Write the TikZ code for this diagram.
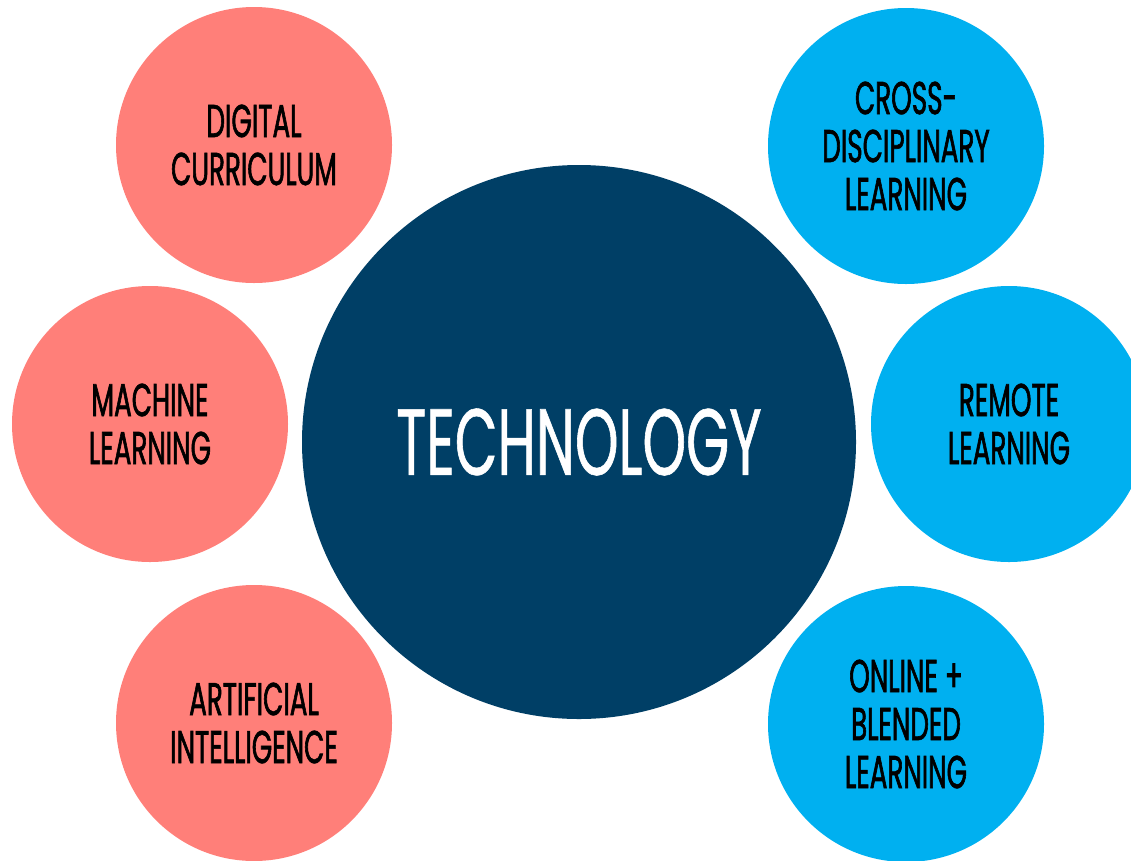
\documentclass[tikz,border=0pt]{standalone}
\usepackage{fontspec}
\setmainfont{Poppins}[FakeStretch=0.58]
\newfontfamily\labelfont{Poppins}[FakeStretch=0.57,FakeBold=1.3]
\newfontfamily\hubfont{Poppins}[FakeStretch=0.59,FakeBold=0.6]
\definecolor{pinkc}{RGB}{255,127,121}
\definecolor{bluec}{RGB}{0,176,240}
\definecolor{navyc}{RGB}{0,63,102}
\tikzset{
  bubble/.style={circle, minimum size=276pt, inner sep=0pt, align=center,
    font=\labelfont\fontsize{46}{48}\selectfont, text=black},
  pinkbubble/.style={bubble, fill=pinkc},
  bluebubble/.style={bubble, fill=bluec},
  hub/.style={circle, minimum size=554pt, inner sep=0pt, fill=navyc, text=white,
    font=\hubfont\fontsize{94}{96}\selectfont}
}
\begin{document}
\begin{tikzpicture}[x=1pt,y=-1pt]
\useasboundingbox (0,0) rectangle (1131,860);
\clip (0,0) rectangle (1131,860);
\fill[white] (0,0) rectangle (1131,860);
\node[hub] (tech) at (579,442) {TECHNOLOGY};
\node[pinkbubble] (digital) at (254,145) {DIGITAL\\CURRICULUM};
\node[pinkbubble] (machine) at (150,424) {MACHINE\\LEARNING};
\node[pinkbubble] (ai) at (254,723) {ARTIFICIAL\\INTELLIGENCE};
\node[bluebubble] (cross) at (906,146) {CROSS-\\DISCIPLINARY\\LEARNING};
\node[bluebubble] (remote) at (1009,424) {REMOTE\\LEARNING};
\node[bluebubble] (online) at (906,724) {ONLINE +\\BLENDED\\LEARNING};
\end{tikzpicture}
\end{document}
